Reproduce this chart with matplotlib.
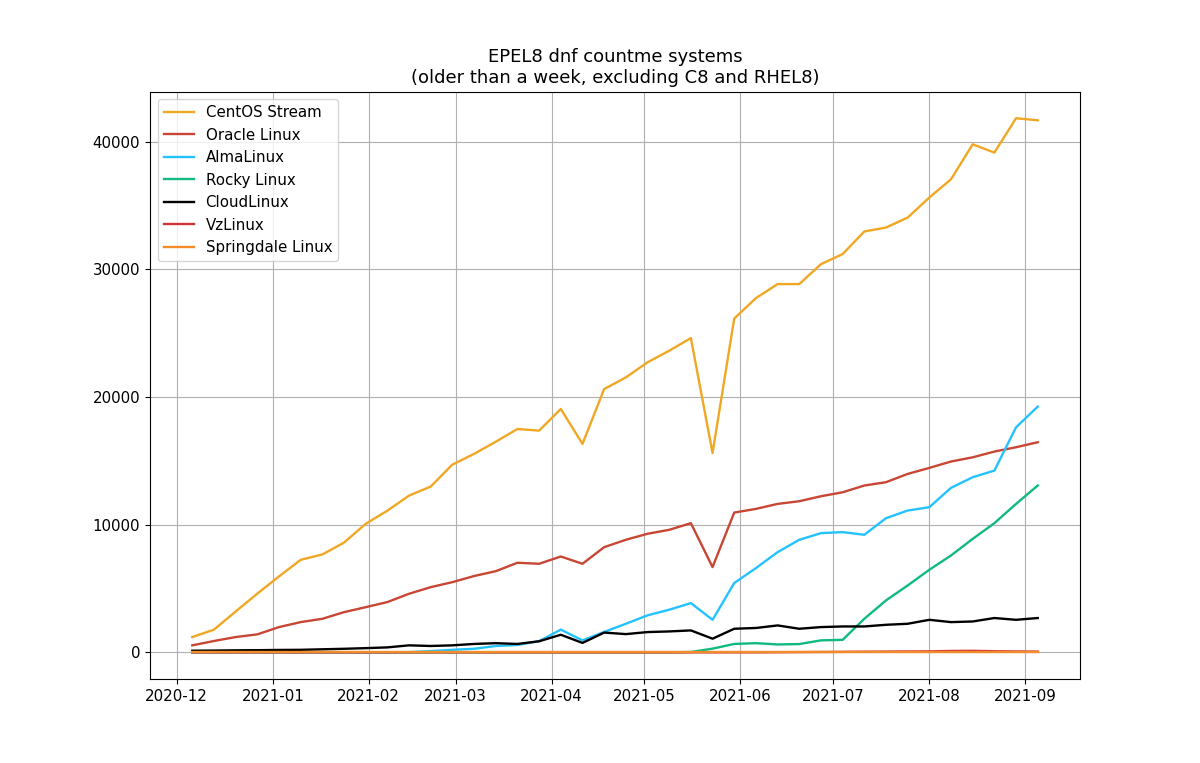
import pandas as pd
import matplotlib
matplotlib.use("Agg")
import matplotlib.pyplot as plt

# weekly countme snapshots
weeks = pd.date_range("2020-12-06", "2021-09-05", freq="7D")

centos_stream = [1200, 1780, 3200, 4600, 5950, 7250, 7670, 8600, 10070, 11100,
                 12280, 12990, 14710, 15550, 16500, 17500, 17370, 19070, 16330, 20630,
                 21540, 22720, 23630, 24620, 15620, 26150, 27750, 28850, 28850, 30410,
                 31200, 32970, 33280, 34060, 35630, 37060, 39800, 39150, 41840, 41680]
oracle = [550, 890, 1200, 1410, 1980, 2370, 2630, 3150, 3540, 3940,
          4590, 5110, 5500, 5980, 6360, 7020, 6940, 7510, 6940, 8240,
          8820, 9290, 9600, 10120, 6680, 10950, 11240, 11630, 11840, 12230,
          12540, 13070, 13330, 13980, 14450, 14950, 15280, 15730, 16070, 16460]
alma = [0, 0, 0, 0, 0, 0, 0, 0, 0, 0,
        20, 100, 200, 280, 500, 580, 880, 1780, 940, 1600,
        2240, 2900, 3340, 3860, 2550, 5430, 6600, 7850, 8820, 9340,
        9420, 9210, 10510, 11110, 11370, 12890, 13720, 14240, 17630, 19250]
rocky = [0, 0, 0, 0, 0, 0, 0, 0, 0, 0,
         0, 0, 0, 0, 0, 0, 0, 0, 0, 0,
         0, 0, 0, 30, 290, 660, 720, 620, 650, 940,
         980, 2630, 4070, 5240, 6470, 7590, 8890, 10120, 11630, 13070]
cloudlinux = [130, 140, 160, 170, 190, 200, 240, 280, 330, 390,
              550, 500, 550, 660, 720, 660, 870, 1380, 740, 1550,
              1430, 1590, 1640, 1720, 1070, 1850, 1910, 2110, 1850, 1980,
              2030, 2030, 2160, 2240, 2550, 2370, 2420, 2690, 2550, 2690]
vzlinux = [0, 0, 0, 0, 0, 0, 0, 0, 0, 0,
           0, 0, 0, 0, 0, 0, 0, 0, 0, 0,
           0, 0, 0, 0, 0, 0, 0, 10, 20, 30,
           40, 50, 60, 70, 80, 110, 120, 90, 70, 60]
springdale = [10, 10, 10, 10, 10, 10, 10, 10, 10, 10,
              10, 10, 10, 10, 10, 10, 10, 10, 10, 10,
              10, 10, 10, 10, 10, 10, 10, 10, 10, 10,
              10, 10, 10, 10, 10, 10, 10, 10, 10, 10]

series = [
    ("CentOS Stream", centos_stream, "#efa724"),
    ("Oracle Linux", oracle, "#c74634"),
    ("AlmaLinux", alma, "#24c2ff"),
    ("Rocky Linux", rocky, "#10b981"),
    ("CloudLinux", cloudlinux, "#000000"),
    ("VzLinux", vzlinux, "#d0343a"),
    ("Springdale Linux", springdale, "#f28c28"),
]

plt.rcParams["font.size"] = 10.8
fig, ax = plt.subplots(figsize=(12, 7.63), dpi=100)

for name, values, color in series:
    ax.plot(weeks, values, label=name, color=color, linewidth=1.7)

ax.set_title("EPEL8 dnf countme systems\n(older than a week, excluding C8 and RHEL8)")
ax.grid(True)
ax.legend(loc="upper left")

fig.savefig("out.png")
